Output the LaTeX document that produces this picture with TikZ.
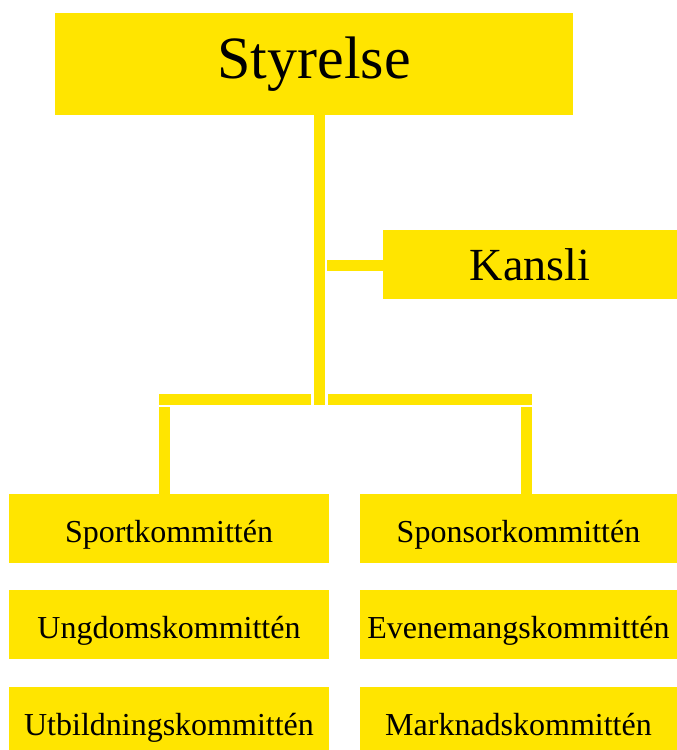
\documentclass[tikz,border=0pt]{standalone}
\usepackage{fontspec}
\setmainfont{Liberation Serif}
\usepackage{tikz}
\usepackage{xcolor}
\definecolor{gul}{RGB}{255,229,0}

\begin{document}
\begin{tikzpicture}[x=1pt,y=-1pt,
  box/.style={fill=gul, inner sep=0pt, align=center},
  topbox/.style={box, minimum width=518pt, minimum height=102pt, font=\fontsize{60}{72}\selectfont},
  midbox/.style={box, minimum width=294pt, minimum height=69pt, font=\fontsize{46}{55}\selectfont},
  kombox/.style={box, minimum height=69pt, text height=27pt, text depth=0pt, font=\fontsize{32}{38}\selectfont},
  link/.style={gul, line width=11pt}]
\useasboundingbox (0,0) rectangle (677,750);
\node [topbox] (styrelse) at (314,64) {Styrelse};
\node [midbox] (kansli) at (530,264.5) {Kansli};
\node [kombox, minimum width=320pt] (sport) at (169,528.5) {Sportkommittén};
\node [kombox, minimum width=320pt] (ungdom) at (169,624.5) {Ungdomskommittén};
\node [kombox, minimum width=320pt] (utbildning) at (169,721.5) {Utbildningskommittén};
\node [kombox, minimum width=317pt] (sponsor) at (518.5,528.5) {Sponsorkommittén};
\node [kombox, minimum width=317pt] (evenemang) at (518.5,624.5) {Evenemangskommittén};
\node [kombox, minimum width=317pt] (marknad) at (518.5,721.5) {Marknadskommittén};
\coordinate (fork) at (319.5,405);
\coordinate (stub) at (327,265.5);
\coordinate (barL) at (311,399.5);
\coordinate (endL) at (159,399.5);
\coordinate (barR) at (328,399.5);
\coordinate (endR) at (532,399.5);
\coordinate (dropL) at (164.5,407);
\coordinate (dropR) at (526.5,407);
\draw [link] (styrelse.south -| fork) -- (fork);
\draw [link] (stub) -- (stub -| kansli.west);
\draw [link] (barL) -- (endL);
\draw [link] (barR) -- (endR);
\draw [link] (dropL) -- (dropL |- sport.north);
\draw [link] (dropR) -- (dropR |- sponsor.north);
\end{tikzpicture}
\end{document}
